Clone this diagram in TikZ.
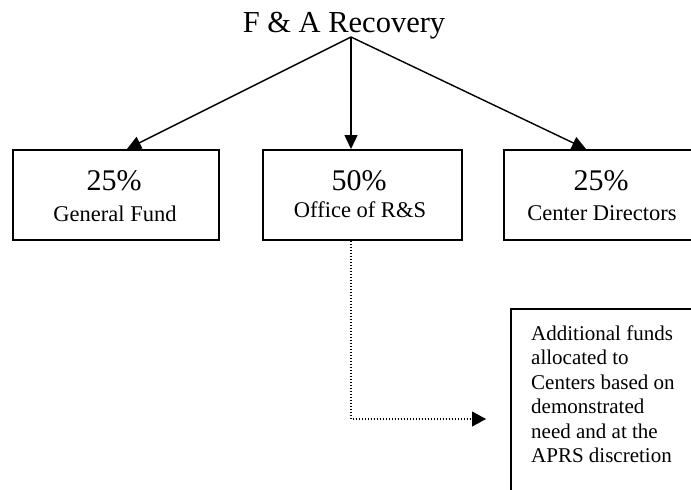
\documentclass[tikz,border=0pt]{standalone}
\usepackage{fontspec}
\setmainfont{Liberation Serif}
\usetikzlibrary{arrows.meta,calc}
\begin{document}
\begin{tikzpicture}[x=1pt,y=-1pt,
  box/.style={draw, line width=1.6pt, rectangle, inner sep=0pt, anchor=north west},
  bigtxt/.style={font=\fontsize{30}{34}\selectfont, inner sep=0pt, anchor=base},
  midtxt/.style={font=\fontsize{22.5}{26}\selectfont, inner sep=0pt, anchor=base},
  arr/.style={line width=1.4pt, -{Triangle[length=14pt,width=13pt]}},
  dotarr/.style={line width=1.1pt, dash pattern=on 1.1pt off 1.9pt, -{Triangle[length=14pt,width=15pt]}}]
\useasboundingbox (0,0) rectangle (691,490);
\clip (0,0) rectangle (691,490);
% title
\node[font=\fontsize{30.5}{34}\selectfont, inner sep=0pt, anchor=base] (title) at (344,32) {F \& A Recovery};
\coordinate (src) at (351,37);
% boxes
\node[box, minimum width=206pt, minimum height=90pt] (b1) at (12,149) {};
\node[box, minimum width=199pt, minimum height=90pt] (b2) at (262,149) {};
\node[box, minimum width=199pt, minimum height=90pt] (b3) at (503,149) {};
\node[bigtxt] (p1) at (114,190) {25\%};
\node[midtxt] (t1) at (115,221) {General Fund};
\node[bigtxt] (p2) at (359,190) {50\%};
\node[midtxt] (t2) at (360,217) {Office of R\&S};
\node[bigtxt] (p3) at (601,190) {25\%};
\node[midtxt] (t3) at (602,220) {Center Directors};
% bottom box
\node[box, minimum width=200pt, minimum height=200pt] (b4) at (510,308) {};
\node[font=\fontsize{21}{24.4}\selectfont, align=left, inner sep=0pt, anchor=north west] (note) at (531,325.5)
  {Additional funds\\allocated to\\Centers based on\\demonstrated\\need and at the\\APRS discretion};
% arrows
\draw[arr] (src) -- ($(b1.north west)+(115,0)$);
\draw[arr] (src) -- ($(b2.north west)+(89,0)$);
\draw[arr] (src) -- ($(b3.north west)+(83,0)$);
\coordinate (dtip) at ($(b4.north west)+(-24,111)$);
\draw[dotarr] ($(b2.south west)+(89,0)$) |- (dtip);
\end{tikzpicture}
\end{document}
